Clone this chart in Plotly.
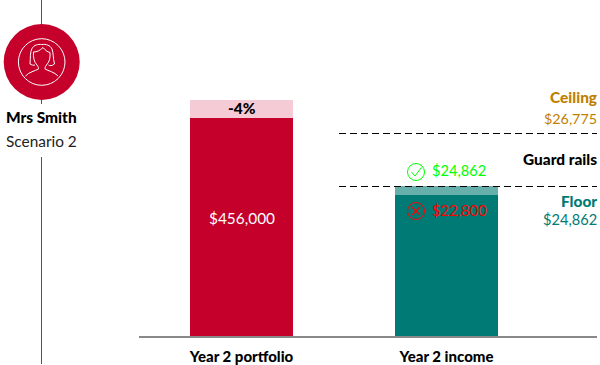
import plotly.graph_objects as go

categories = ["Year 2 portfolio", "Year 2 income"]
portfolio_value = 456000
portfolio_reduction = 37600
income_value = 22800
income_gap = 1460
ceiling_mark = 32790
floor_mark = 24223
portfolio_label = "$456,000"
reduction_label = "-4%"
ceiling_amount = "$26,775"
floor_amount = "$24,862"
pass_amount = "$24,862"
fail_amount = "$22,800"
person = "Mrs Smith"
scenario = "Scenario 2"

W, H = 600, 365
RED, PINK = "#C4002B", "#F5CCD5"
TEAL, PALE = "#007A74", "#66AFAB"
GOLD = "#BF8000"
FONT = "Lato"
BOLD = "Lato Black, Lato"
BASE = 336.3


def X(p):
    return p / W


def Y(p):
    return 1 - p / H


def path(*runs):
    return " ".join("M " + " L ".join(f"{X(a):.5f},{Y(b):.5f}" for a, b in r) for r in runs)


def curve(start, *segs):
    s = f"M {X(start[0]):.5f},{Y(start[1]):.5f}"
    for (a, b), (c, d), (e, f) in segs:
        s += f" C {X(a):.5f},{Y(b):.5f} {X(c):.5f},{Y(d):.5f} {X(e):.5f},{Y(f):.5f}"
    return s


def circle(cx, cy, r, **kw):
    return dict(type="circle", xref="paper", yref="paper", x0=X(cx - r), x1=X(cx + r),
                y0=Y(cy + r), y1=Y(cy - r), **kw)


def line(p, color, width=1):
    return dict(type="path", xref="paper", yref="paper", path=p, line=dict(color=color, width=width))


fig = go.Figure()
fig.add_bar(x=[categories[0]], y=[portfolio_value], marker=dict(color=RED, line_width=0), width=0.502, yaxis="y", offsetgroup=0)
fig.add_bar(x=[categories[0]], y=[portfolio_reduction], base=[portfolio_value], marker=dict(color=PINK, line_width=0), width=0.502, yaxis="y", offsetgroup=0)
fig.add_bar(x=[categories[1]], y=[income_value], marker=dict(color=TEAL, line_width=0), width=0.502, yaxis="y2", offsetgroup=0)
fig.add_bar(x=[categories[1]], y=[income_gap], base=[income_value], marker=dict(color=PALE, line_width=0), width=0.502, yaxis="y2", offsetgroup=0)

DASH = dict(color="black", width=1, dash="7px,4px")
shapes = [
    dict(type="line", xref="paper", yref="paper", x0=X(41.5), x1=X(41.5), y0=Y(0), y1=Y(104), line=dict(color="#555555", width=1)),
    dict(type="line", xref="paper", yref="paper", x0=X(41.5), x1=X(41.5), y0=Y(157), y1=Y(364), line=dict(color="#555555", width=1)),
    circle(41.7, 62, 38, fillcolor=RED, line_width=0),
    circle(41.7, 62, 23.3, line=dict(color="white", width=1)),
    dict(type="line", xref="paper", yref="y2", x0=X(339), x1=X(597), y0=ceiling_mark, y1=ceiling_mark, line=DASH),
    dict(type="line", xref="paper", yref="y2", x0=X(339), x1=X(597), y0=floor_mark, y1=floor_mark, line=DASH),
    # person icon
    line(curve((30, 64), ((30.5, 58), (30, 52), (32, 48.5)), ((34, 45), (38, 44), (41.7, 44.5)),
               ((46, 44), (50, 45), (52, 49)), ((53.5, 53), (53, 58), (54.5, 64)),
               ((52, 66), (50, 66), (48.5, 65))), "white"),
    line(curve((35, 65), ((33.5, 65.5), (31.5, 65), (30, 64))), "white"),
    line(curve((33.5, 52), ((37, 52), (40, 50.5), (43, 47.5)), ((45, 50), (47.5, 52), (50, 52.5))), "white"),
    line(curve((33.5, 52), ((33, 57), (34, 62), (37, 65)), ((38.5, 67), (38.5, 68), (38.5, 69)),
               ((35, 71), (29, 72), (25.5, 76))), "white"),
    line(curve((50, 52.5), ((50.5, 57), (49.5, 62), (46.5, 65)), ((45, 67), (45, 68), (45, 69)),
               ((48.5, 71), (54.5, 72), (58, 76))), "white"),
    # pass and fail icons
    circle(416, 172, 8.5, line=dict(color="#00FF00", width=1)),
    line(path([(411.5, 172), (415, 176), (421.5, 167.5)]), "#00FF00"),
    circle(416, 211, 8.5, line=dict(color="#FF0000", width=1)),
    line(path([(412, 207), (420, 215)]), "#FF0000", 1.2),
    line(path([(420, 207), (412, 215)]), "#FF0000", 1.2),
]


def note(text, x, y, color="black", size=15.4, font=FONT, anchor="right"):
    return dict(text=text, xref="paper", yref="paper", x=X(x), y=Y(y - 0.5), xanchor=anchor, yanchor="middle",
                showarrow=False, font=dict(family=font, size=size, color=color), borderpad=0, borderwidth=0)


annotations = [
    note(person, 6, 118, font=BOLD, anchor="left"),
    note(scenario, 6, 141, color="#222222", anchor="left"),
    note(reduction_label, 241.5, 108, font=BOLD, anchor="center"),
    note(portfolio_label, 241.5, 218, color="white", anchor="center"),
    note("Ceiling", 597, 98, color=GOLD, font=BOLD),
    note(ceiling_amount, 597, 119, color=GOLD, size=14.3),
    note("Guard rails", 597, 160, font=BOLD),
    note("Floor", 597, 201, color=TEAL, font=BOLD),
    note(floor_amount, 597, 220, color=TEAL, size=14.6),
    note(pass_amount, 432, 171, color="#00FF00", anchor="left", size=14.6),
    note(fail_amount, 432, 210, color="#FF0000", anchor="left", size=14.8),
]

fig.update_layout(
    width=W, height=H, margin=dict(l=0, r=0, t=0, b=0), showlegend=False,
    paper_bgcolor="white", plot_bgcolor="white", barmode="overlay", bargap=0,
    shapes=shapes, annotations=annotations,
    font=dict(family=FONT, size=15, color="black"),
    xaxis=dict(domain=[X(139), X(597)], range=[-0.5, 1.734], type="category",
               categoryorder="array", categoryarray=categories,
               showgrid=False, zeroline=False, showline=True, linecolor="#888888", linewidth=1.5,
               ticks="", tickfont=dict(family=BOLD, size=15, color="black"), ticklabelstandoff=6),
    yaxis=dict(domain=[Y(BASE), 1], range=[0, BASE * 2091.7], visible=False),
    yaxis2=dict(domain=[Y(BASE), 1], range=[0, BASE * 161.7], visible=False, overlaying="y"),
)

fig.write_html("out.html", config=dict(displayModeBar=False), post_script="document.body.style.margin='0';")
